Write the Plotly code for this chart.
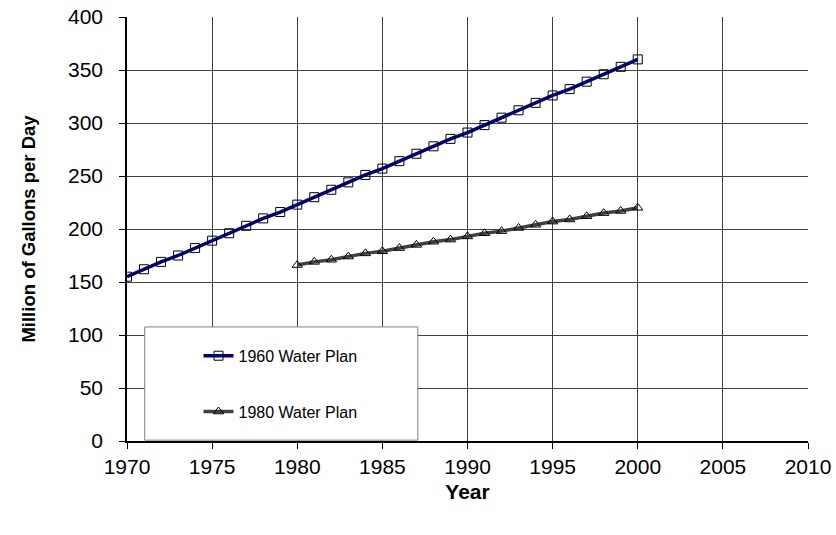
import plotly.graph_objects as go

years_1960 = list(range(1970, 2001))
plan_1960 = [155, 162, 169, 175, 182, 189, 196, 203, 210, 216,
             223, 230, 237, 244, 251, 257, 264, 271, 278, 285,
             291, 298, 305, 312, 319, 326, 332, 339, 346, 353, 360]

years_1980 = list(range(1980, 2001))
plan_1980 = [166, 169, 171, 174, 177, 179, 182, 185, 188, 190,
             193, 196, 198, 201, 204, 207, 209, 212, 215, 217, 220]

font_name = "Liberation Sans, Arial, sans-serif"

fig = go.Figure()

fig.add_trace(go.Scatter(
    x=years_1960, y=plan_1960,
    mode='lines+markers',
    name='1960 Water Plan',
    legendgroup='a',
    line=dict(color='#000080', width=3.5),
    marker=dict(symbol='square-open', size=9, color='black', line=dict(width=1, color='black'))
))

fig.add_trace(go.Scatter(
    x=years_1980, y=plan_1980,
    mode='lines+markers',
    name='1980 Water Plan',
    legendgroup='b',
    line=dict(color='#404040', width=3.5),
    marker=dict(symbol='triangle-up-open', size=9, color='black', line=dict(width=1, color='black'))
))

# legend frame
fig.add_shape(type='rect', xref='paper', yref='paper',
              x0=0.026, x1=0.427, y0=0.002, y1=0.269,
              line=dict(color='#808080', width=1), fillcolor='white', layer='above')

fig.update_layout(
    width=836, height=535,
    margin=dict(l=127, r=28, t=17, b=94),
    paper_bgcolor='white',
    plot_bgcolor='white',
    font=dict(family=font_name, color='black'),
    showlegend=True,
    legend=dict(
        x=0.105, y=0.241, xanchor='left', yanchor='top',
        bgcolor='rgba(0,0,0,0)',
        font=dict(size=16, family=font_name),
        tracegroupgap=32,
        itemwidth=30,
    ),
    xaxis=dict(
        range=[1970, 2010], dtick=5, tick0=1970,
        showgrid=True, gridcolor='#404040', gridwidth=1,
        showline=True, linecolor='black', linewidth=1.5,
        ticks='outside', ticklen=6, tickcolor='black',
        tickfont=dict(size=21),
        ticklabeloverflow='allow',
        title=dict(text='<b>Year</b>', font=dict(size=21), standoff=7),
        zeroline=False, automargin=False,
    ),
    yaxis=dict(
        range=[0, 400], dtick=50,
        showgrid=True, gridcolor='#404040', gridwidth=1,
        showline=True, linecolor='black', linewidth=1.5,
        ticks='outside', ticklen=6, tickcolor='black',
        tickfont=dict(size=21),
        ticklabelstandoff=12,
        ticklabeloverflow='allow',
        title=dict(text='<b>Million of Gallons per Day</b>', font=dict(size=18.5), standoff=28),
        zeroline=False, automargin=False,
    ),
)

# drop the default 8px body margin so the figure fills the window exactly
fig.write_html("out.html", config={'displayModeBar': False},
               post_script="document.body.style.margin='0';document.body.style.overflow='hidden';")
